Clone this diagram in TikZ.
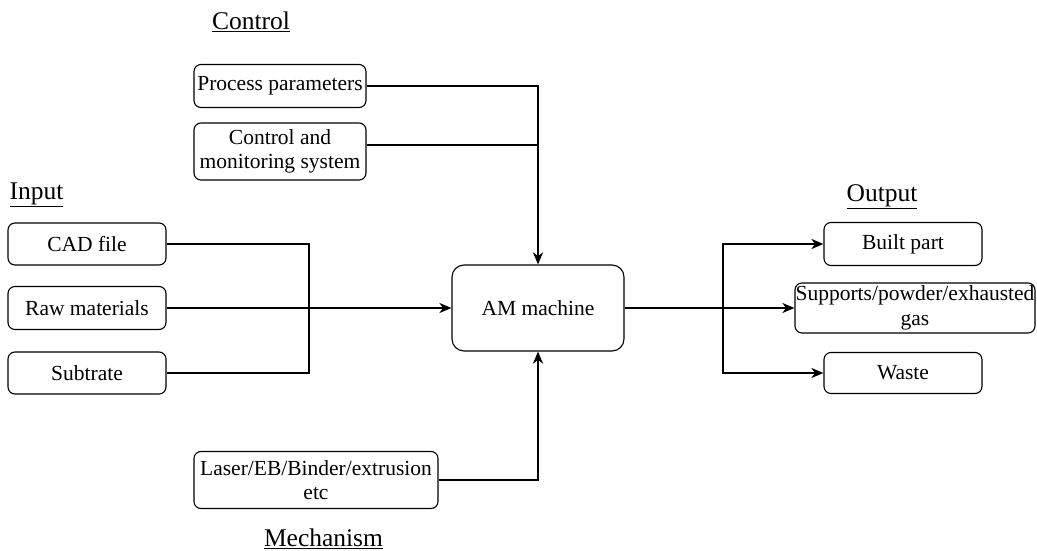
\documentclass[tikz,border=0pt]{standalone}
\usepackage{fontspec}
\setmainfont{Liberation Serif}
\usetikzlibrary{arrows.meta}
\begin{document}
\begin{tikzpicture}[x=1pt,y=-1pt,
  txt/.style={font=\fontsize{21.5}{24.5}\selectfont},
  box/.style={txt, draw, rounded corners=7pt, line width=1.1pt, align=center, inner sep=0pt},
  lbl/.style={font=\fontsize{25.5}{28}\selectfont, inner sep=0pt},
  conn/.style={draw, line width=2pt},
  arr/.style={draw, line width=2pt, -{Stealth[length=12pt,width=10pt,inset=3.5pt]}}
]
\useasboundingbox (0,0) rectangle (1037,551);
% labels
\node[lbl] (lc) at (251,22) {\underline{Control}};
\node[lbl] (li) at (36.5,195) {\underline{Input}};
\node[lbl] (lo) at (882,197) {\underline{Output}};
\node[lbl] (lm) at (323.5,539) {\underline{Mechanism}};
% control
\node[box, minimum width=172pt, minimum height=43pt] (pp) at (280,86) {Process parameters};
\node[box, minimum width=172pt, minimum height=57pt] (cm) at (280,151.5) {Control and\\monitoring system};
% input
\node[box, minimum width=158pt, minimum height=42pt] (cad) at (87,244) {CAD file};
\node[box, minimum width=158pt, minimum height=43pt] (raw) at (87,308) {Raw materials};
\node[box, minimum width=158pt, minimum height=42pt] (sub) at (87,373) {Subtrate};
% machine
\node[box, rounded corners=12pt, minimum width=172pt, minimum height=86pt] (am) at (538,308) {AM machine};
% output
\node[box, minimum width=240pt, minimum height=50pt] (sup) at (915,308) {Supports/powder/exhausted\\gas};
\node[box, minimum width=158pt, minimum height=43pt] (built) at (903,244) {Built part};
\node[box, minimum width=158pt, minimum height=41pt] (waste) at (903,373) {Waste};
% mechanism
\node[box, minimum width=244pt, minimum height=57pt] (mech) at (316,480) {Laser/EB/Binder/extrusion\\etc};
% connectors
\coordinate (jin) at (309,308);
\coordinate (jout) at (723,308);
\path[arr] (pp.east) -| (am.north);
\path[conn] ([yshift=6.5pt]cm.east) -- ([yshift=6.5pt]cm.east -| am.north);
\path[conn] (cad.east) -| (jin) |- (sub.east);
\path[arr] (raw.east) -- (am.west);
\path[arr] (am.east) -- (sup.west);
\path[arr] (jout) |- (built.west);
\path[arr] (jout) |- (waste.west);
\path[conn] (jout |- built.west) -- (jout |- waste.west);
\path[arr] (mech.east) -| (am.south);
\end{tikzpicture}
\end{document}
